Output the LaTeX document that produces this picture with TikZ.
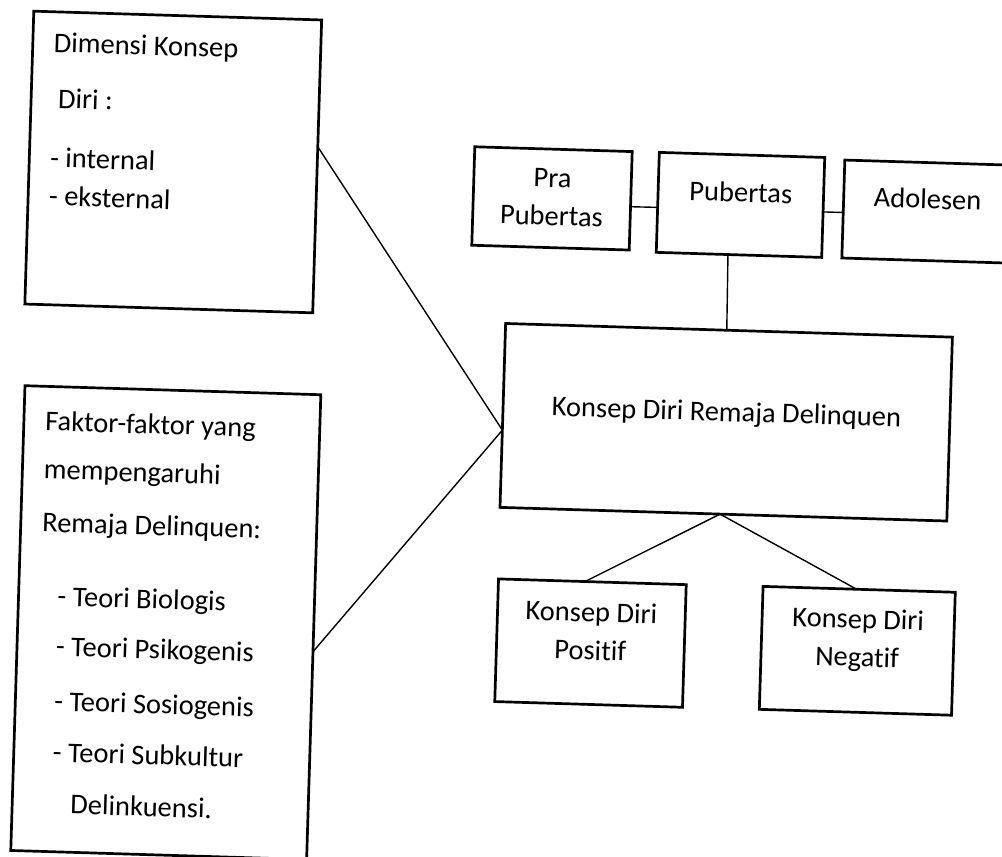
\documentclass[tikz,border=0pt]{standalone}
\usepackage{fontspec}
\setmainfont{Carlito}[Ligatures={NoCommon}]
\usetikzlibrary{calc}
\newcommand{\fsz}{\fontsize{28.5}{38.3}\selectfont}
\newcommand{\mybox}[3]{\begin{minipage}[c][#2][t]{#1}\fsz #3\end{minipage}}
\tikzset{
  boxstyle/.style={draw=black, line width=2.7pt, inner sep=0pt, outer sep=0pt, rotate=-1.75, fill=white},
  link/.style={draw=black, line width=1.4pt},
}
\begin{document}
\begin{tikzpicture}[x=1pt, y=-1pt]
\useasboundingbox (0,0) rectangle (1002,857);
\fill[white] (0,0) rectangle (1002,857);
\clip (0,0) rectangle (1002,857);

% left boxes
\node[boxstyle] (b1) at (173.25,162) {\mybox{288pt}{293pt}{\raggedright\leftskip=21pt
\rule{0pt}{40.4pt}Dimensi Konsep\\[17.6pt]
\hspace*{6pt}Diri :\\[20.9pt]
- internal\\
- eksternal}};

\node[boxstyle] (b2) at (165.8,622.6) {\mybox{296pt}{465pt}{\raggedright\leftskip=21.5pt
\rule{0pt}{44.2pt}Faktor-faktor yang\\[10pt]
mempengaruhi\\[14.7pt]
Remaja Delinquen:\\[35.2pt]
\hspace*{17.6pt}- Teori Biologis\\[11.7pt]
\hspace*{17.6pt}- Teori Psikogenis\\[16.7pt]
\hspace*{17.6pt}- Teori Sosiogenis\\[12.7pt]
\hspace*{17.6pt}- Teori Subkultur\\[13.4pt]
\hspace*{36.8pt}Delinkuensi.}};

% stages
\node[boxstyle] (pra) at (552,198.4) {\mybox{157.5pt}{98.5pt}{\centering\rule{0pt}{38pt}Pra\\Pubertas}};
\node[boxstyle] (pub) at (740.5,204.9) {\mybox{165.5pt}{100pt}{\centering\rule{0pt}{47pt}Pubertas}};
\node[boxstyle] (ado) at (927.3,211.6) {\mybox{168pt}{98pt}{\centering\rule{0pt}{46pt}Adolesen}};

% central
\node[boxstyle] (cen) at (726.2,422.25) {\mybox{447pt}{184pt}{\centering\rule{0pt}{91pt}Konsep Diri Remaja Delinquen}};

% outcomes
\node[boxstyle] (pos) at (590.5,643.1) {\mybox{187.8pt}{122.7pt}{\centering\rule{0pt}{40pt}Konsep Diri\\Positif}};
\node[boxstyle] (neg) at (857.3,650.8) {\mybox{192.3pt}{123pt}{\centering\rule{0pt}{39pt}Konsep Diri\\Negatif}};

% meeting points
\coordinate (cl) at ($(cen.west)!0.16!(cen.south west)$);
\coordinate (cb) at ($(cen.south)!0.015!(cen.south west)$);

% connectors
\draw[link] ($(b1.east)!0.134!(b1.north east)$) -- (cl);
\draw[link] ($(b2.east)!0.106!(b2.south east)$) -- (cl);
\draw[link] ($(pra.east)!0.12!(pra.south east)$) -- ($(pub.west)!0.1!(pub.south west)$);
\draw[link] ($(pub.east)!0.09!(pub.south east)$) -- ($(ado.west)!0.07!(ado.south west)$);
\draw[link] ($(pub.south)!0.133!(pub.south west)$) -- ($(cen.north)!0.01!(cen.north west)$);
\draw[link] (cb) -- ($(pos.north)!0.079!(pos.north west)$);
\draw[link] (cb) -- ($(neg.north)!0.026!(neg.north west)$);
\end{tikzpicture}
\end{document}
